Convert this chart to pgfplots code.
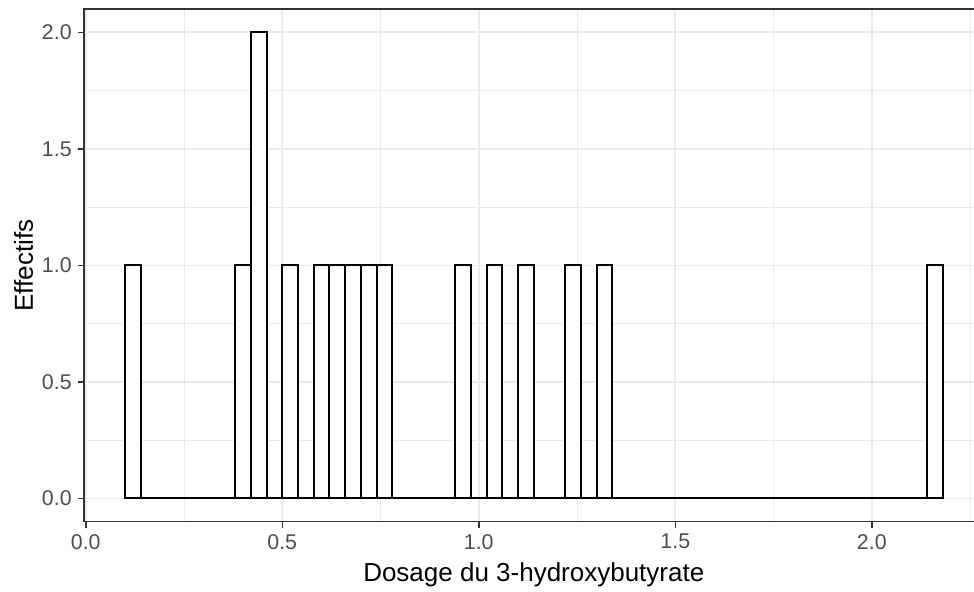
\documentclass[border=0pt]{standalone}
\usepackage{pgfplots}
\pgfplotsset{compat=1.18}
\usepackage{fontspec}
\setmainfont{Liberation Sans}
\definecolor{gridc}{HTML}{EBEBEB}
\definecolor{framec}{HTML}{333333}
\definecolor{tickc}{HTML}{4D4D4D}
\begin{document}
\begin{tikzpicture}
% page = 974 x 592 px, 1 px = 0.75pt, axis south west at (84.2px, 521.7px)
\useasboundingbox (-63.15pt,-52.7pt) rectangle (667.35pt,391.3pt);
\clip (-63.15pt,-52.7pt) rectangle (667.35pt,391.3pt);
\begin{axis}[
    at={(0,0)}, anchor=south west,
    scale only axis,
    width=674.4pt, height=384.5pt,
    xmin=-0.004, xmax=2.284,
    ymin=-0.1, ymax=2.1,
    xtick={0,0.5,1,1.5,2},
    ytick={0,0.5,1,1.5,2},
    minor xtick={0.25,0.75,1.25,1.75,2.25},
    minor ytick={0.25,0.75,1.25,1.75},
    minor tick length=0pt,
    major tick length=4.9pt,
    tick align=outside,
    xtick pos=bottom, ytick pos=left,
    xmajorgrids, ymajorgrids, xminorgrids, yminorgrids,
    major grid style={gridc, line width=1.3pt},
    minor grid style={gridc, line width=0.65pt},
    axis line style={framec, line width=1.1pt},
    every tick/.style={framec, line width=1.1pt},
    ticklabel style={font=\fontsize{16}{16}\selectfont, text=tickc},
    yticklabel style={xshift=-1pt},
    xticklabel style={yshift=-1pt},
    /pgf/number format/assume math mode=true,
    /pgf/number format/.cd, fixed, fixed zerofill, precision=1, /pgfplots/.cd,
    xlabel={Dosage du 3-hydroxybutyrate},
    ylabel={Effectifs},
    label style={font=\fontsize{19.5}{19.5}\selectfont},
    xlabel style={at={(axis description cs:0.5,0)}, anchor=base, yshift=-45pt},
    ylabel style={at={(axis description cs:-0.057,0.5)}, anchor=base},
]
\addplot[ybar interval, draw=black, fill=white, line width=1.5pt] coordinates {
(0.10,1)(0.14,0)(0.18,0)(0.22,0)(0.26,0)(0.30,0)(0.34,0)(0.38,1)(0.42,2)(0.46,0)
(0.50,1)(0.54,0)(0.58,1)(0.62,1)(0.66,1)(0.70,1)(0.74,1)(0.78,0)(0.82,0)(0.86,0)
(0.90,0)(0.94,1)(0.98,0)(1.02,1)(1.06,0)(1.10,1)(1.14,0)(1.18,0)(1.22,1)(1.26,0)
(1.30,1)(1.34,0)(1.38,0)(1.42,0)(1.46,0)(1.50,0)(1.54,0)(1.58,0)(1.62,0)(1.66,0)
(1.70,0)(1.74,0)(1.78,0)(1.82,0)(1.86,0)(1.90,0)(1.94,0)(1.98,0)(2.02,0)(2.06,0)
(2.10,0)(2.14,1)(2.18,0)
};
\end{axis}
\end{tikzpicture}
\end{document}
